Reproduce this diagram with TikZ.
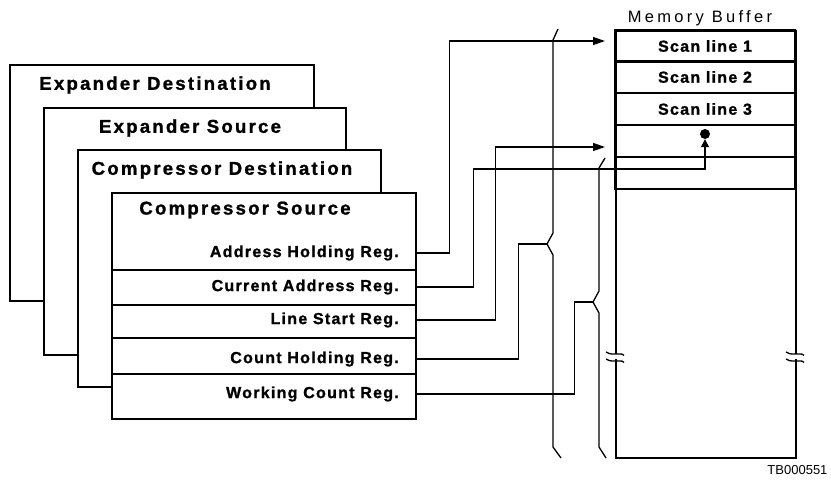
\documentclass[tikz,border=0pt]{standalone}
\usepackage{fontspec}
\setmainfont{Liberation Sans}
\newfontfamily\ttlfont[LetterSpace=12, BoldFeatures={FakeBold=1.2}]{Liberation Sans}
\newfontfamily\regfont[LetterSpace=8, BoldFeatures={FakeBold=1.2}]{Liberation Sans}
\newfontfamily\widen[LetterSpace=20]{Liberation Sans}
\usetikzlibrary{arrows.meta,calc}

\begin{document}
\begin{tikzpicture}[
    x=1pt, y=-1pt,
    panel/.style={draw, line width=2.3pt, fill=white, anchor=north west, inner sep=0pt},
    ttl/.style={font={\ttlfont\bfseries\fontsize{18.6}{20}\selectfont}, inner sep=0pt},
    reg/.style={font={\regfont\bfseries\fontsize{16}{18}\selectfont}, anchor=east, inner sep=0pt},
    slot/.style={draw, line width=2.3pt, minimum width=180pt, minimum height=32pt,
                 inner sep=0pt, font={\regfont\bfseries\fontsize{16}{18}\selectfont}},
    link/.style={line width=1.3pt},
    tip/.style={-{Triangle[length=12pt, width=8pt]}},
    bus/.style={line width=1.3pt, line join=round},
  ]
  \useasboundingbox (0,0) rectangle (831,484);

  % ---------- stacked channel panels, back to front ----------
  \node[panel, minimum width=304pt, minimum height=236pt] (expdst) at (9,64) {};
  \node[ttl] (expdstT) at (155,85) {Expander Destination};
  \node[panel, minimum width=302pt, minimum height=247pt] (expsrc) at (43,107) {};
  \node[ttl] (expsrcT) at (190,128) {Expander Source};
  \node[panel, minimum width=303pt, minimum height=237pt] (cmpdst) at (77,149) {};
  \node[ttl] (cmpdstT) at (222,170) {Compressor Destination};
  \node[panel, minimum width=304pt, minimum height=226pt] (cmpsrc) at (111,192) {};
  \node[ttl] (cmpsrcT) at (245,210) {Compressor Source};

  % ---------- register rows ----------
  \foreach \yy in {270,305,338,374}
    \draw[line width=2.3pt] (111,\yy) -- (415,\yy);
  \node[reg] (regA) at (399,253) {Address Holding Reg.};
  \node[reg] (regB) at (399,287) {Current Address Reg.};
  \node[reg] (regC) at (399,320) {Line Start Reg.};
  \node[reg] (regD) at (399,359) {Count Holding Reg.};
  \node[reg] (regE) at (399,394) {Working Count Reg.};

  % ---------- memory buffer ----------
  \node[font={\widen\fontsize{16.5}{18}\selectfont}] (bufT) at (700,18) {Memory Buffer};
  \node[panel, minimum width=180pt, minimum height=427pt] (membuf) at (615,30) {};
  \node[slot] (scan1) at (705,46) {Scan line 1};
  \node[slot] (scan2) at (705,77) {Scan line 2};
  \node[slot] (scan3) at (705,109) {Scan line 3};
  \node[slot] (slot4) at (705,141) {};
  \node[slot] (slot5) at (705,173) {};

  % break marks on both buffer edges
  \foreach \xx in {615,795} {
    \fill[white] (\xx-3,354) rectangle (\xx+3,359);
    \draw[link] (\xx-9,352) .. controls (\xx-7,354) and (\xx-4,354) .. (\xx,354)
      -- (\xx+5,354) .. controls (\xx+7,354) and (\xx+8,354) .. (\xx+9,355.5);
    \draw[link] (\xx-9,359) .. controls (\xx-7,361) and (\xx-4,361) .. (\xx,361)
      -- (\xx+5,361) .. controls (\xx+7,361) and (\xx+8,361) .. (\xx+9,362.5);
  }

  % ---------- bus lines ----------
  \draw[bus] (558,29) -- (553,40) -- (553,233) -- (547,244) coordinate (tapD)
    -- (553,255) -- (553,447) -- (561,458);
  \draw[bus] (605,158) -- (599,168) -- (599,291) -- (593,302) coordinate (tapE)
    -- (599,313) -- (599,447) -- (606,458);

  % ---------- pointer into the buffer ----------
  \node[circle, fill, inner sep=0pt, minimum size=10pt] (pin) at (705,134) {};
  \coordinate (tipA) at (605,41);
  \coordinate (tipC) at (605,147);
  \coordinate (hopB) at (705,169);

  % ---------- register outputs ----------
  \draw[link, tip] (cmpsrc.east |- regA) -- ++(32,0) |- (tipA);
  \draw[link, -{Triangle[length=8pt, width=8pt]}]
    (cmpsrc.east |- regB) -- ++(56,0) |- (hopB) -- (pin.south);
  \draw[link, tip] (cmpsrc.east |- regC) -- ++(78,0) |- (tipC);
  \draw[link] (cmpsrc.east |- regD) -- ++(101,0) |- (tapD);
  \draw[link] (cmpsrc.east |- regE) -- ++(157,0) |- (tapE);

  \node[font=\fontsize{13}{15}\selectfont, anchor=east] (tag) at (831,470) {TB000551};
\end{tikzpicture}
\end{document}
